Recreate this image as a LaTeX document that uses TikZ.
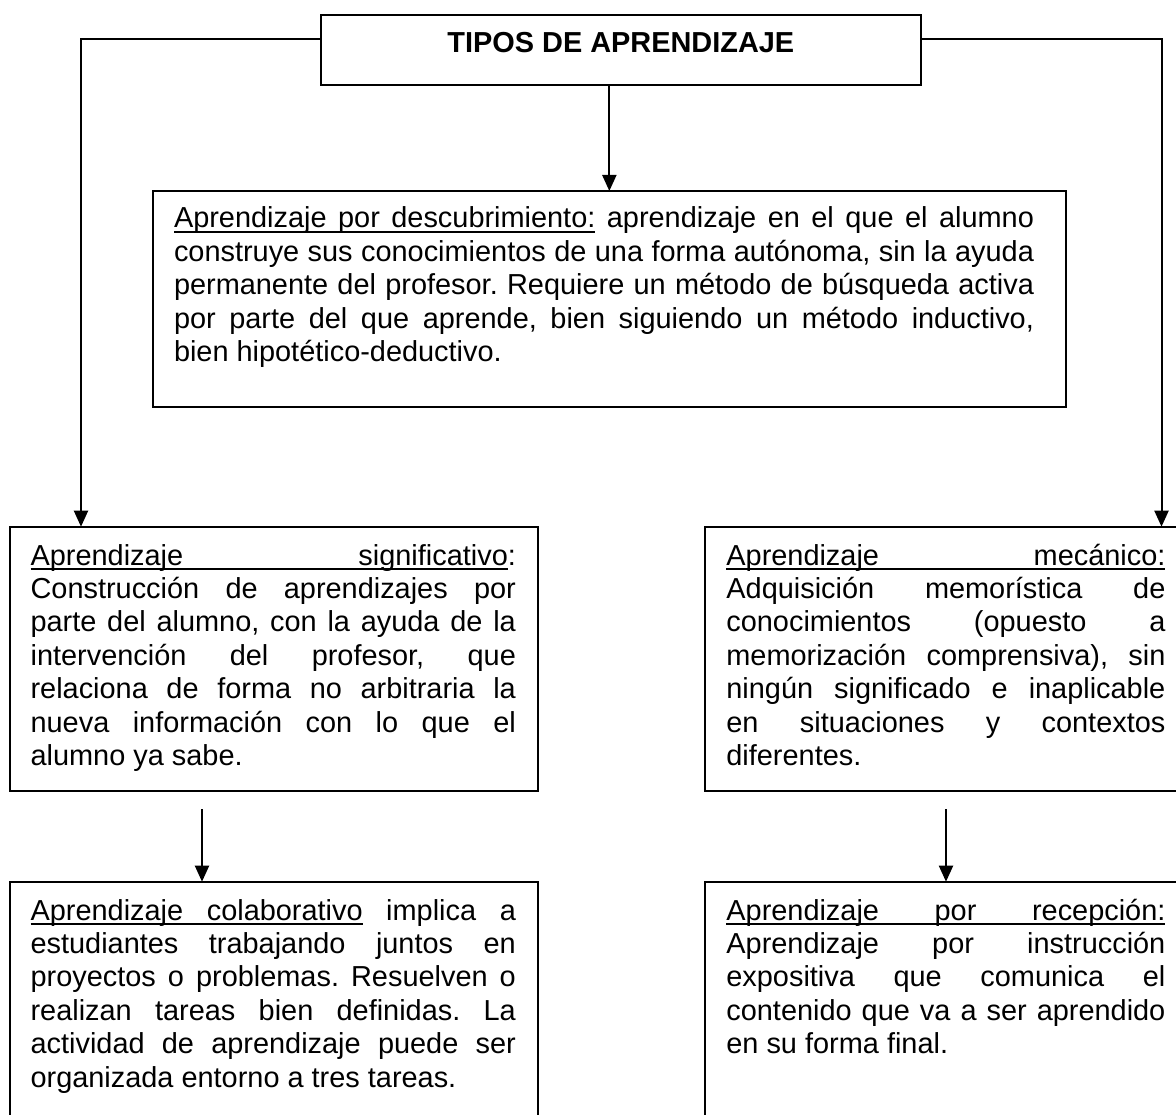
\documentclass[tikz,border=0pt]{standalone}
\usepackage{fontspec}
\setmainfont{Liberation Sans}
\usetikzlibrary{arrows.meta,calc}
\frenchspacing
% underlined word
\newcommand\myul[1]{\setbox0=\hbox{#1}\rlap{\vrule height -2.8pt depth 5.3pt width\wd0}\box0\relax}
% underlined stretchable space
\newcommand\us{\leaders\hrule height -2.8pt depth 5.3pt\hskip 0.278em plus 1fil\relax}
% justified line
\newcommand\jl[1]{\hbox to\hsize{\spaceskip=0.278em plus 1fil\relax #1}}
% last (ragged) line
\newcommand\el[1]{\hbox{#1}}
% box content: total width, text width, lines
\newcommand\tb[3]{\hbox to #1pt{\hskip21pt\vtop{\hsize=#2pt #3}\hss}}
\begin{document}
\begin{tikzpicture}[x=1pt,y=-1pt,
  box/.style={draw,line width=2pt,inner sep=0pt,outer sep=0pt,anchor=north west},
  conn/.style={line width=2pt,-{Triangle[length=16pt,width=14pt]}},
  font=\fontsize{28.9}{33.4}\selectfont]
\fill[white] (0,0) rectangle (1176,1115);
\useasboundingbox (0,0) rectangle (1176,1115);
\clip (0,0) rectangle (1176,1115);

\node[box,text height=38pt,text depth=32pt,font=\fontsize{28.9}{33.4}\selectfont\bfseries] (title) at (320.7,15)
  {\hbox to 600.3pt{\hss TIPOS DE APRENDIZAJE\hss}};

\node[box,text height=37pt,text depth=178.7pt] (desc) at (153,191) {\tb{912.7}{860}{%
  \jl{\myul{Aprendizaje}\us\myul{por}\us\myul{descubrimiento:} aprendizaje en el que el alumno}
  \jl{construye sus conocimientos de una forma autónoma, sin la ayuda}
  \jl{permanente del profesor. Requiere un método de búsqueda activa}
  \jl{por parte del que aprende, bien siguiendo un método inductivo,}
  \el{bien hipotético-deductivo.}}};

\node[box,text height=38.3pt,text depth=225.7pt] (sig) at (9.6,526.7) {\tb{528.1}{485.3}{%
  \jl{\myul{Aprendizaje}\us\myul{significativo}:}
  \jl{Construcción de aprendizajes por}
  \jl{parte del alumno, con la ayuda de la}
  \jl{intervención del profesor, que}
  \jl{relaciona de forma no arbitraria la}
  \jl{nueva información con lo que el}
  \el{alumno ya sabe.}}};

\node[box,text height=38.3pt,text depth=225.7pt] (mec) at (705.4,526.7) {\tb{481}{439}{%
  \jl{\myul{Aprendizaje}\us\myul{mecánico:}}
  \jl{Adquisición memorística de}
  \jl{conocimientos (opuesto a}
  \jl{memorización comprensiva), sin}
  \jl{ningún significado e inaplicable}
  \jl{en situaciones y contextos}
  \el{diferentes.}}};

\node[box,text height=38.3pt,text depth=215pt] (col) at (9.6,881.7) {\tb{528.1}{485.3}{%
  \jl{\myul{Aprendizaje}\us\myul{colaborativo} implica a}
  \jl{estudiantes trabajando juntos en}
  \jl{proyectos o problemas. Resuelven o}
  \jl{realizan tareas bien definidas. La}
  \jl{actividad de aprendizaje puede ser}
  \el{organizada entorno a tres tareas.}}};

\node[box,text height=38.3pt,text depth=215pt] (rec) at (705.4,881.7) {\tb{481}{439}{%
  \jl{\myul{Aprendizaje}\us\myul{por}\us\myul{recepción:}}
  \jl{Aprendizaje por instrucción}
  \jl{expositiva que comunica el}
  \jl{contenido que va a ser aprendido}
  \el{en su forma final.}}};

\draw[conn] ([yshift=10.7pt]title.west) -| ([xshift=71.4pt]sig.north west);
\draw[conn] ([yshift=10.7pt]title.east) -| ([xshift=456.1pt]mec.north west);
\draw[conn] (title.south -| desc.north) -- (desc.north);
\coordinate (sigout) at ($(sig.south west)+(192.4,18.3)$);
\coordinate (mecout) at ($(mec.south west)+(240.6,18.3)$);
\draw[conn] (sigout) -- (sigout |- col.north);
\draw[conn] (mecout) -- (mecout |- rec.north);
\end{tikzpicture}
\end{document}
